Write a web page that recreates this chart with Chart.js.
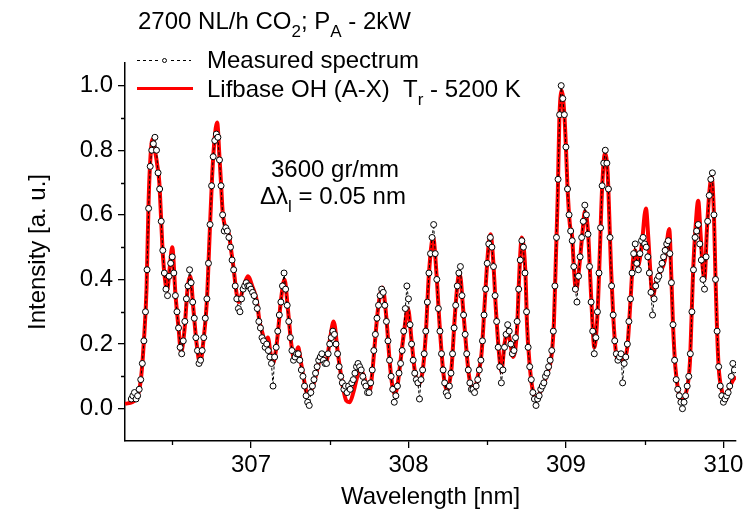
<!DOCTYPE html>
<html lang="en">
<head>
  <meta charset="UTF-8">
  <title>OH (A-X) spectrum</title>
  <script src="https://cdn.jsdelivr.net/npm/chart.js"></script>
  <style>
    html, body { margin: 0; padding: 0; background: #fff; }
    .chart-container { position: relative; width: 749px; height: 520px; }
  </style>
</head>
<body>
  <div class="chart-container">
    <canvas id="spectrumChart" width="749" height="520"></canvas>
  </div>

  <script>
    const FONT = '"Liberation Sans", Arial, sans-serif';
    const FONT_SIZE = 24;

    // Lifbase simulation, read at its turning points
    const simWavelength = [
      306.20, 306.27, 306.30, 306.32, 306.337, 306.35, 306.362, 306.375, 306.39, 306.407,
      306.418, 306.43, 306.44, 306.454, 306.467, 306.485, 306.50, 306.52, 306.54, 306.556,
      306.577, 306.598, 306.615, 306.634, 306.655, 306.677, 306.698, 306.72, 306.736, 306.753,
      306.768, 306.785, 306.80, 306.81, 306.82, 306.838, 306.86, 306.874, 306.889, 306.906,
      306.922, 306.952, 306.98, 307.011, 307.037, 307.054, 307.075, 307.09, 307.107, 307.125,
      307.14, 307.155, 307.17, 307.19, 307.213, 307.234, 307.256, 307.277, 307.30, 307.315,
      307.33, 307.36, 307.38, 307.404, 307.436, 307.45, 307.478, 307.50, 307.525, 307.552,
      307.584, 307.605, 307.627, 307.65, 307.67, 307.69, 307.71, 307.73, 307.754, 307.77,
      307.786, 307.807, 307.835, 307.86, 307.88, 307.898, 307.913, 307.93, 307.945, 307.97,
      307.997, 308.02, 308.04, 308.066, 308.08, 308.093, 308.11, 308.13, 308.157, 308.178,
      308.195, 308.216, 308.23, 308.246, 308.26, 308.274, 308.295, 308.316, 308.326, 308.347,
      308.37, 308.385, 308.40, 308.42, 308.44, 308.464, 308.485, 308.506, 308.521, 308.538,
      308.555, 308.577, 308.59, 308.61, 308.63, 308.645, 308.665, 308.69, 308.70, 308.72,
      308.743, 308.753, 308.769, 308.786, 308.81, 308.84, 308.88, 308.91, 308.924, 308.937,
      308.948, 308.958, 308.973, 308.99, 309.00, 309.01, 309.025, 309.04, 309.05, 309.064,
      309.085, 309.106, 309.12, 309.14, 309.155, 309.168, 309.18, 309.20, 309.215, 309.23,
      309.248, 309.265, 309.275, 309.286, 309.30, 309.316, 309.33, 309.345, 309.36, 309.375,
      309.39, 309.41, 309.426, 309.44, 309.456, 309.48, 309.508, 309.523, 309.534, 309.55,
      309.575, 309.596, 309.628, 309.656, 309.67, 309.68, 309.695, 309.713, 309.734, 309.766,
      309.787, 309.797, 309.808, 309.823, 309.84, 309.855, 309.868, 309.88, 309.895, 309.91,
      309.925, 309.94, 309.95, 309.96, 309.97, 309.99, 310.01, 310.04, 310.06, 310.08
    ];
    const simIntensity = [
      0.015, 0.03, 0.087, 0.21, 0.375, 0.644, 0.78, 0.835, 0.80, 0.747,
      0.70, 0.58, 0.48, 0.40, 0.365, 0.44, 0.50, 0.356, 0.25, 0.175,
      0.24, 0.375, 0.41, 0.31, 0.20, 0.14, 0.21, 0.334, 0.52, 0.716,
      0.83, 0.886, 0.778, 0.696, 0.61, 0.56, 0.54, 0.49, 0.437, 0.365,
      0.33, 0.375, 0.41, 0.375, 0.334, 0.27, 0.23, 0.20, 0.22, 0.17,
      0.14, 0.17, 0.23, 0.334, 0.40, 0.31, 0.20, 0.15, 0.19, 0.15,
      0.107, 0.045, 0.055, 0.087, 0.15, 0.16, 0.145, 0.21, 0.27, 0.17,
      0.066, 0.025, 0.02, 0.05, 0.09, 0.12, 0.11, 0.08, 0.056, 0.11,
      0.20, 0.31, 0.375, 0.28, 0.15, 0.07, 0.045, 0.07, 0.128, 0.23,
      0.31, 0.21, 0.118, 0.076, 0.09, 0.128, 0.23, 0.417, 0.53, 0.417,
      0.28, 0.14, 0.08, 0.056, 0.08, 0.128, 0.29, 0.406, 0.417, 0.31,
      0.17, 0.10, 0.066, 0.06, 0.10, 0.17, 0.334, 0.49, 0.54, 0.46,
      0.31, 0.16, 0.115, 0.20, 0.24, 0.21, 0.16, 0.25, 0.375, 0.53,
      0.417, 0.26, 0.14, 0.066, 0.025, 0.056, 0.107, 0.17, 0.27, 0.48,
      0.66, 0.89, 0.985, 0.91, 0.81, 0.685, 0.57, 0.53, 0.44, 0.365,
      0.44, 0.55, 0.61, 0.55, 0.40, 0.27, 0.19, 0.29, 0.48, 0.685,
      0.79, 0.73, 0.60, 0.44, 0.29, 0.18, 0.15, 0.17, 0.15, 0.16,
      0.19, 0.334, 0.46, 0.49, 0.44, 0.50, 0.62, 0.53, 0.44, 0.345,
      0.40, 0.42, 0.46, 0.556, 0.40, 0.26, 0.128, 0.056, 0.025, 0.056,
      0.14, 0.27, 0.43, 0.56, 0.644, 0.54, 0.44, 0.40, 0.55, 0.665,
      0.716, 0.60, 0.40, 0.24, 0.128, 0.056, 0.025, 0.066, 0.087, 0.10
    ];

    // measured spectrum: one reading every 0.01 nm starting at 306.24 nm
    const measStart = 306.24;
    const measStep = 0.01;
    const measIntensity = [
      0.03, 0.04, 0.05, 0.03, 0.04, 0.06, 0.09, 0.14, 0.21, 0.30,
      0.43, 0.62, 0.75, 0.80, 0.82, 0.84, 0.80, 0.73, 0.68, 0.58,
      0.49, 0.42, 0.37, 0.35, 0.41, 0.45, 0.47, 0.42, 0.35, 0.30,
      0.25, 0.19, 0.17, 0.21, 0.27, 0.34, 0.38, 0.43, 0.39, 0.33,
      0.28, 0.22, 0.18, 0.14, 0.15, 0.18, 0.22, 0.28, 0.34, 0.45,
      0.57, 0.69, 0.78, 0.83, 0.85, 0.84, 0.77, 0.69, 0.60, 0.55,
      0.56, 0.55, 0.53, 0.50, 0.46, 0.43, 0.38, 0.34, 0.31, 0.30,
      0.34, 0.37, 0.38, 0.39, 0.38, 0.38, 0.37, 0.36, 0.35, 0.33,
      0.31, 0.27, 0.25, 0.22, 0.21, 0.19, 0.20, 0.18, 0.16, 0.14,
      0.07, 0.16, 0.19, 0.24, 0.29, 0.33, 0.38, 0.42, 0.37, 0.32,
      0.27, 0.22, 0.18, 0.15, 0.16, 0.17, 0.17, 0.15, 0.12, 0.10,
      0.07, 0.04, 0.02, 0.01, 0.05, 0.07, 0.09, 0.11, 0.13, 0.15,
      0.16, 0.17, 0.15, 0.14, 0.14, 0.17, 0.20, 0.22, 0.24, 0.23,
      0.20, 0.17, 0.13, 0.10, 0.08, 0.06, 0.07, 0.05, 0.07, 0.06,
      0.08, 0.09, 0.11, 0.13, 0.14, 0.13, 0.12, 0.10, 0.08, 0.07,
      0.05, 0.05, 0.08, 0.12, 0.18, 0.23, 0.28, 0.32, 0.35, 0.37,
      0.36, 0.32, 0.27, 0.21, 0.15, 0.10, 0.06, 0.02, 0.04, 0.07,
      0.11, 0.14, 0.18, 0.24, 0.31, 0.38, 0.34, 0.26, 0.20, 0.15,
      0.11, 0.09, 0.08, 0.03, 0.09, 0.12, 0.17, 0.24, 0.33, 0.42,
      0.48, 0.53, 0.57, 0.48, 0.40, 0.31, 0.24, 0.17, 0.12, 0.08,
      0.05, 0.04, 0.07, 0.11, 0.17, 0.25, 0.32, 0.38, 0.42, 0.44,
      0.35, 0.29, 0.23, 0.17, 0.12, 0.08, 0.06, 0.06, 0.05, 0.07,
      0.09, 0.12, 0.15, 0.21, 0.29, 0.37, 0.45, 0.51, 0.53, 0.50,
      0.44, 0.35, 0.27, 0.19, 0.13, 0.08, 0.12, 0.19, 0.23, 0.26,
      0.24, 0.20, 0.17, 0.18, 0.22, 0.27, 0.37, 0.46, 0.52, 0.50,
      0.42, 0.30, 0.19, 0.13, 0.09, 0.05, 0.03, 0.01, 0.03, 0.04,
      0.06, 0.07, 0.08, 0.10, 0.11, 0.13, 0.15, 0.18, 0.24, 0.38,
      0.53, 0.71, 0.91, 1.00, 0.96, 0.91, 0.81, 0.68, 0.60, 0.55,
      0.52, 0.44, 0.37, 0.33, 0.41, 0.47, 0.53, 0.58, 0.63, 0.60,
      0.54, 0.44, 0.33, 0.24, 0.17, 0.22, 0.30, 0.42, 0.56, 0.69,
      0.76, 0.80, 0.76, 0.68, 0.53, 0.38, 0.29, 0.21, 0.17, 0.15,
      0.16, 0.17, 0.08, 0.14, 0.16, 0.20, 0.27, 0.34, 0.42, 0.48,
      0.51, 0.45, 0.43, 0.48, 0.52, 0.53, 0.51, 0.50, 0.47, 0.42,
      0.36, 0.29, 0.34, 0.38, 0.40, 0.41, 0.43, 0.45, 0.47, 0.49,
      0.51, 0.52, 0.48, 0.39, 0.26, 0.15, 0.09, 0.06, 0.04, 0.02,
      0.00, 0.02, 0.04, 0.07, 0.10, 0.17, 0.30, 0.43, 0.53, 0.55,
      0.57, 0.51, 0.46, 0.40, 0.37, 0.47, 0.58, 0.66, 0.71, 0.73,
      0.60, 0.40, 0.24, 0.13, 0.07, 0.04, 0.02, 0.03, 0.04, 0.05,
      0.07, 0.10, 0.14, 0.12
    ];

    const xMajorTicks = [307, 308, 309, 310];
    const xMinorTicks = [306.5, 307.5, 308.5, 309.5];
    const yMajorTicks = [0, 0.2, 0.4, 0.6, 0.8, 1.0];
    const yMinorTicks = [0.1, 0.3, 0.5, 0.7, 0.9];

    const measData = measIntensity.map((v, i) => ({ x: +(measStart + i * measStep).toFixed(2), y: v }));
    const simData = simWavelength.map((w, i) => ({ x: w, y: simIntensity[i] }));

    // text with subscripts, parts = [{t, sub}]
    function drawRich(ctx, x, y, parts, align) {
      const widths = parts.map(p => {
        ctx.font = (p.sub ? Math.round(FONT_SIZE * 0.7) : FONT_SIZE) + 'px ' + FONT;
        return ctx.measureText(p.t).width;
      });
      const total = widths.reduce((a, b) => a + b, 0);
      let cx = align === 'center' ? x - total / 2 : x;
      ctx.textAlign = 'left';
      ctx.textBaseline = 'alphabetic';
      ctx.fillStyle = '#000';
      parts.forEach((p, i) => {
        ctx.font = (p.sub ? Math.round(FONT_SIZE * 0.7) : FONT_SIZE) + 'px ' + FONT;
        ctx.fillText(p.t, cx, p.sub ? y + 8 : y);
        cx += widths[i];
      });
    }

    const extrasPlugin = {
      id: 'extras',
      afterDraw(chart) {
        const ctx = chart.ctx;
        const xs = chart.scales.x, ys = chart.scales.y;
        const area = chart.chartArea;
        ctx.save();

        // minor ticks
        ctx.strokeStyle = '#000';
        ctx.lineWidth = 1.3;
        ctx.beginPath();
        xMinorTicks.forEach(v => {
          const px = Math.round(xs.getPixelForValue(v)) + 0.5;
          ctx.moveTo(px, area.bottom);
          ctx.lineTo(px, area.bottom + 4);
        });
        yMinorTicks.forEach(v => {
          const py = Math.round(ys.getPixelForValue(v)) + 0.5;
          ctx.moveTo(area.left, py);
          ctx.lineTo(area.left - 4, py);
        });
        ctx.stroke();

        // title
        drawRich(ctx, 138, 29, [
          { t: '2700 NL/h CO' }, { t: '2', sub: true }, { t: '; P' }, { t: 'A', sub: true }, { t: ' - 2kW' }
        ]);

        // legend: measured
        ctx.strokeStyle = '#000';
        ctx.lineWidth = 1;
        ctx.setLineDash([3, 3]);
        ctx.beginPath();
        ctx.moveTo(137, 60.5); ctx.lineTo(158, 60.5);
        ctx.moveTo(171, 60.5); ctx.lineTo(191, 60.5);
        ctx.stroke();
        ctx.setLineDash([]);
        ctx.beginPath();
        ctx.arc(164.5, 60.5, 2, 0, Math.PI * 2);
        ctx.fillStyle = '#fff';
        ctx.fill();
        ctx.stroke();
        drawRich(ctx, 207, 68, [{ t: 'Measured spectrum' }]);

        // legend: simulation
        ctx.strokeStyle = '#ff0000';
        ctx.lineWidth = 3;
        ctx.beginPath();
        ctx.moveTo(137, 88.5); ctx.lineTo(193, 88.5);
        ctx.stroke();
        drawRich(ctx, 207, 97, [
          { t: 'Lifbase OH (A-X)  T' }, { t: 'r', sub: true }, { t: ' - 5200 K' }
        ]);

        // grating note
        drawRich(ctx, 335, 177, [{ t: '3600 gr/mm' }], 'center');
        drawRich(ctx, 333, 204, [{ t: '\u0394\u03bb' }, { t: 'l', sub: true }, { t: ' = 0.05 nm' }], 'center');

        ctx.restore();
      }
    };

    const axisFont = { family: FONT, size: FONT_SIZE };

    new Chart(document.getElementById('spectrumChart').getContext('2d'), {
      type: 'line',
      data: {
        datasets: [
          {
            label: 'Measured spectrum',
            data: measData,
            borderColor: '#000',
            borderWidth: 1,
            borderDash: [3, 2],
            pointRadius: 3,
            pointBackgroundColor: '#fff',
            pointBorderColor: '#000',
            pointBorderWidth: 1,
            tension: 0
          },
          {
            label: 'Lifbase OH (A-X) Tr - 5200 K',
            data: simData,
            borderColor: '#ff0000',
            borderWidth: 4,
            pointRadius: 0,
            cubicInterpolationMode: 'monotone'
          }
        ]
      },
      options: {
        responsive: false,
        animation: false,
        devicePixelRatio: 1,
        layout: { padding: { left: 0, right: 13, top: 63, bottom: 0 } },
        plugins: { legend: { display: false }, tooltip: { enabled: false } },
        scales: {
          x: {
            type: 'linear',
            min: 306.2,
            max: 310.08,
            border: { color: '#000', width: 1.5 },
            grid: { drawOnChartArea: false, tickLength: 7, color: '#000', lineWidth: 1.3 },
            ticks: { font: axisFont, color: '#000', padding: 3, maxRotation: 0, callback: v => String(v) },
            afterBuildTicks: ax => { ax.ticks = xMajorTicks.map(v => ({ value: v })); },
            afterFit: ax => { ax.height = 79; ax.paddingLeft = 0; ax.paddingRight = 0; },
            title: { display: true, text: 'Wavelength [nm]', font: axisFont, color: '#000', padding: { top: 0, bottom: 8 } }
          },
          y: {
            min: -0.1,
            max: 1.07,
            border: { color: '#000', width: 1.5 },
            grid: { drawOnChartArea: false, tickLength: 7, color: '#000', lineWidth: 1.3 },
            ticks: { font: axisFont, color: '#000', padding: 5, callback: v => v.toFixed(1) },
            afterBuildTicks: ax => { ax.ticks = yMajorTicks.map(v => ({ value: v })); },
            afterFit: ax => { ax.width = 125; ax.paddingTop = 0; ax.paddingBottom = 0; },
            title: { display: true, text: 'Intensity [a. u.]', font: axisFont, color: '#000', padding: { top: 24, bottom: 0 } }
          }
        }
      },
      plugins: [extrasPlugin]
    });
  </script>
</body>
</html>
